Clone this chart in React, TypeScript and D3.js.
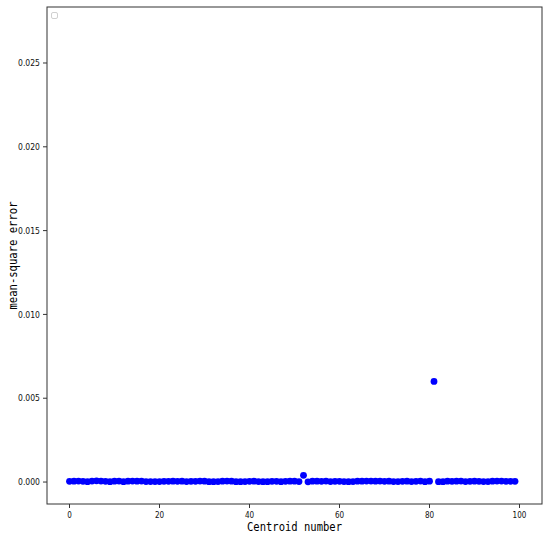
import React from "react";
import * as d3 from "d3";

const centroidIds: number[] = Array.from({ length: 100 }, (_, i) => i);
// mean-square error per centroid
const mseValues: number[] = [
  0.00004, 0.00005, 0.00006, 0.00004, 0.00002, 0.00006, 0.00007, 0.00006, 0.00004, 0.00002,
  0.00005, 0.00006, 0.00002, 0.00005, 0.00006, 0.00005, 0.00006, 0.00003, 0.00003, 0.00003,
  0.00003, 0.00004, 0.00004, 0.00005, 0.00004, 0.00005, 0.00003, 0.00004, 0.00004, 0.00006,
  0.00005, 0.00002, 0.00002, 0.00003, 0.00005, 0.00006, 0.00005, 0.00002, 0.00002, 0.00003,
  0.00004, 0.00005, 0.00003, 0.00002, 0.00002, 0.00004, 0.00004, 0.00002, 0.00004, 0.00005,
  0.00005, 0.00003, 0.00040, 0.00001, 0.00005, 0.00005, 0.00004, 0.00006, 0.00003, 0.00004,
  0.00004, 0.00003, 0.00002, 0.00003, 0.00005, 0.00005, 0.00006, 0.00006, 0.00005, 0.00006,
  0.00004, 0.00005, 0.00003, 0.00003, 0.00004, 0.00005, 0.00003, 0.00004, 0.00006, 0.00002,
  0.00005, 0.00600, 0.00002, 0.00002, 0.00005, 0.00004, 0.00005, 0.00006, 0.00003, 0.00004,
  0.00005, 0.00004, 0.00003, 0.00003, 0.00005, 0.00006, 0.00006, 0.00004, 0.00004, 0.00004,
];
const xTicks: number[] = [0, 20, 40, 60, 80, 100];
const yTicks: number[] = [0, 0.005, 0.01, 0.015, 0.02, 0.025];
const xLabel = "Centroid number";
const yLabel = "mean-square error";

const W = 550;
const H = 536;
const left = 47;
const right = 542;
const top = 7;
const bottom = 504;
const MONO = "'DejaVu Sans Mono', 'Liberation Mono', monospace";
const SANS = "'DejaVu Sans', 'Noto Sans', sans-serif";

export default function App() {
  const x = d3.scaleLinear().domain([-5, 105]).range([left, right]);
  const y = d3.scaleLinear().domain([-0.00131, 0.02834]).range([bottom, top]);
  const fmt = d3.format(".3f");

  return (
    <svg
      width={W}
      height={H}
      style={{ position: "absolute", left: 0, top: 0, background: "#fff" }}
    >
      <rect x={0} y={0} width={W} height={H} fill="#fff" />
      {/* points */}
      {centroidIds.map((id, i) => (
        <circle key={id} cx={x(id)} cy={y(mseValues[i])} r={3.4} fill="#0000ff" />
      ))}
      {/* spines */}
      <rect
        x={left}
        y={top}
        width={right - left}
        height={bottom - top}
        fill="none"
        stroke="#333"
        strokeWidth={1}
      />
      {/* empty legend box */}
      <rect x={51.5} y={12.5} width={6} height={6} rx={1.5} fill="#fff" stroke="#d0d0d0" strokeWidth={1} />
      {/* x ticks */}
      {xTicks.map((t) => (
        <g key={t} transform={`translate(${x(t)},${bottom})`}>
          <line y1={0} y2={4} stroke="#333" strokeWidth={1} />
          <text
            y={14}
            textAnchor="middle"
            fontSize={9}
            fontFamily={SANS}
            textLength={String(t).length * 4.6}
            lengthAdjust="spacingAndGlyphs"
            fill="#111"
          >
            {t}
          </text>
        </g>
      ))}
      {/* y ticks */}
      {yTicks.map((t) => (
        <g key={t} transform={`translate(${left},${y(t)})`}>
          <line x1={0} x2={-4} stroke="#333" strokeWidth={1} />
          <text
            x={-7}
            dy="0.35em"
            textAnchor="end"
            fontSize={9}
            fontFamily={SANS}
            textLength={22}
            lengthAdjust="spacingAndGlyphs"
            fill="#111"
          >
            {fmt(t)}
          </text>
        </g>
      ))}
      <text
        x={(left + right) / 2}
        y={531}
        textAnchor="middle"
        fontSize={12}
        fontFamily={MONO}
        textLength={95}
        lengthAdjust="spacingAndGlyphs"
        fill="#000"
      >
        {xLabel}
      </text>
      <text
        transform={`translate(17,${(top + bottom) / 2}) rotate(-90)`}
        textAnchor="middle"
        fontSize={12}
        fontFamily={MONO}
        textLength={108}
        lengthAdjust="spacingAndGlyphs"
        fill="#000"
      >
        {yLabel}
      </text>
    </svg>
  );
}
